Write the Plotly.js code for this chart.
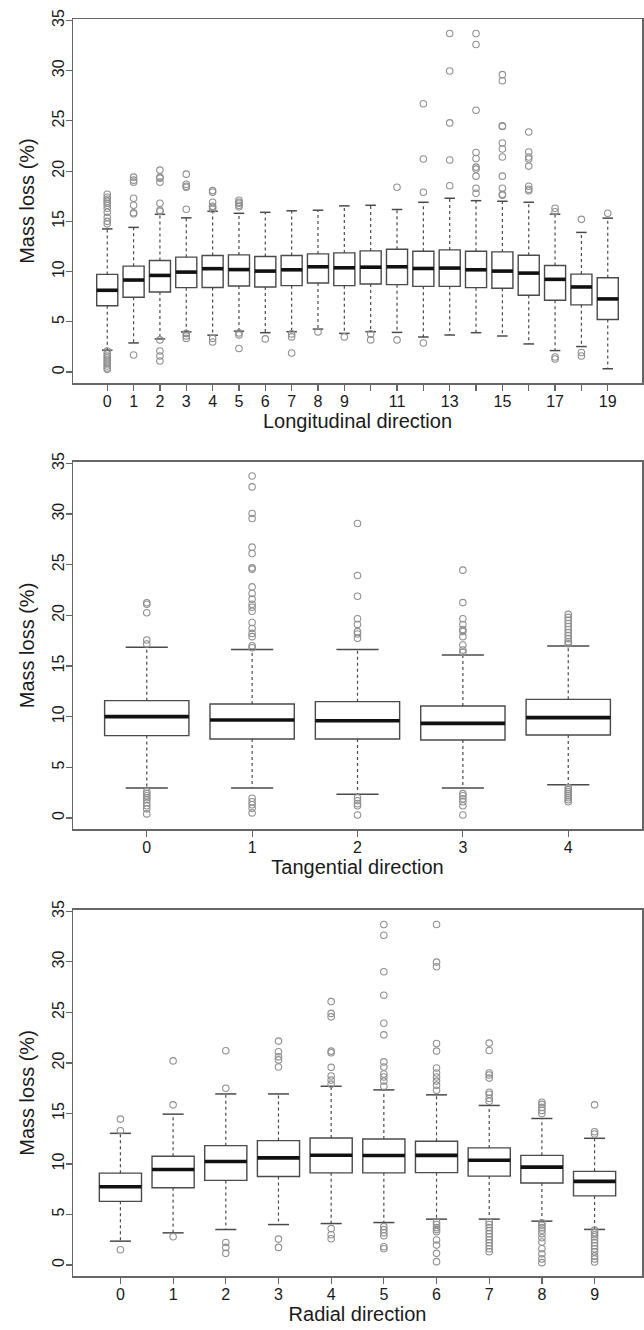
<!DOCTYPE html>
<html>
<head>
<meta charset="utf-8">
<script src="https://cdn.plot.ly/plotly-3.0.1.min.js"></script>
<style>
  html, body { margin: 0; padding: 0; background: #ffffff; }
  #chart { width: 644px; height: 1330px; }
</style>
</head>
<body>
<div id="chart"></div>
<script>
// ---------------- Longitudinal direction (positions 0..19) ----------------
const lonPos = [0,1,2,3,4,5,6,7,8,9,10,11,12,13,14,15,16,17,18,19];
const lonTickText = ["0","1","2","3","4","5","6","7","8","9","","11","","13","","15","","17","","19"];
const lonQ1  = [6.6, 7.45, 7.97, 8.4, 8.42, 8.56, 8.47, 8.6, 8.86, 8.6, 8.76, 8.7, 8.53, 8.53, 8.4, 8.34, 7.64, 7.15, 6.69, 5.24];
const lonMed = [8.14, 9.16, 9.62, 9.95, 10.29, 10.2, 10.05, 10.18, 10.48, 10.38, 10.44, 10.48, 10.31, 10.35, 10.18, 10.05, 9.85, 9.23, 8.47, 7.28];
const lonQ3  = [9.72, 10.54, 11.1, 11.44, 11.6, 11.66, 11.5, 11.6, 11.76, 11.86, 12.06, 12.22, 12.03, 12.16, 12.03, 11.96, 11.63, 10.61, 9.75, 9.39];
const lonLo  = [2.18, 2.9, 3.3, 4.0, 3.67, 4.07, 3.92, 4.02, 4.28, 3.85, 4.02, 3.95, 3.49, 3.69, 3.92, 3.59, 2.8, 2.14, 2.54, 0.33];
const lonHi  = [14.25, 14.4, 15.7, 15.35, 16.0, 15.8, 15.9, 16.05, 16.11, 16.54, 16.6, 16.18, 16.9, 17.3, 17.06, 17.0, 16.9, 15.72, 13.9, 15.32];
const lonOut = [
  [17.7, 17.4, 17.2, 17.0, 16.8, 16.6, 16.3, 15.9, 15.4, 15.0, 14.75, 2.1, 1.8, 1.6, 1.4, 1.2, 1.0, 0.8, 0.6, 0.4, 0.27],
  [19.4, 19.1, 18.9, 17.3, 16.6, 15.85, 15.75, 1.7],
  [20.1, 19.4, 19.3, 18.9, 16.8, 16.1, 16.0, 3.2, 2.1, 1.6, 1.1],
  [19.7, 18.7, 18.5, 18.4, 16.2, 3.85, 3.6, 3.35],
  [18.06, 17.9, 16.9, 16.5, 16.4, 16.2, 3.35, 3.0],
  [17.1, 16.9, 16.8, 16.6, 16.45, 3.9, 3.7, 2.35],
  [3.3],
  [3.8, 3.5, 1.9],
  [4.0],
  [3.5],
  [3.8, 3.2],
  [18.4, 3.2],
  [26.7, 21.2, 17.9, 2.9],
  [33.7, 29.96, 24.8, 21.1, 18.55],
  [33.7, 32.6, 26.06, 21.86, 21.26, 20.4, 20.2, 19.5, 18.3, 17.8],
  [29.6, 29.0, 24.5, 24.45, 22.8, 22.2, 21.4, 19.5, 18.3, 17.7, 17.6],
  [23.9, 21.9, 21.4, 21.2, 20.5, 18.5, 18.2, 18.05],
  [16.3, 15.95, 1.5, 1.3],
  [15.2, 1.95, 1.6],
  [15.8]
];

// ---------------- Tangential direction (positions 0..4) ----------------
const tanPos = [0,1,2,3,4];
const tanTickText = ["0","1","2","3","4"];
const tanQ1  = [8.13, 7.8, 7.8, 7.7, 8.19];
const tanMed = [10.0, 9.67, 9.6, 9.34, 9.9];
const tanQ3  = [11.58, 11.25, 11.48, 11.05, 11.71];
const tanLo  = [2.96, 2.96, 2.34, 2.96, 3.29];
const tanHi  = [16.84, 16.64, 16.64, 16.09, 16.97];
const tanOut = [
  [21.25, 21.1, 20.25, 17.57, 17.17, 2.6, 2.4, 2.2, 2.0, 1.8, 1.5, 1.2, 0.9, 0.4],
  [33.76, 32.68, 30.05, 29.56, 26.73, 26.1, 24.69, 24.56, 22.81, 22.15, 21.6, 21.1, 20.8, 20.4, 19.3, 18.7, 18.22, 17.9, 17.0, 16.8, 1.94, 1.6, 1.3, 0.95, 0.5],
  [29.06, 23.93, 21.89, 19.66, 19.1, 18.39, 18.16, 17.73, 2.0, 1.7, 1.4, 1.2, 0.3],
  [24.46, 21.26, 19.66, 19.1, 18.6, 18.4, 17.9, 17.07, 16.58, 16.35, 2.4, 2.2, 1.9, 1.6, 1.2, 0.3],
  [20.1, 19.8, 19.5, 19.2, 18.9, 18.6, 18.3, 18.0, 17.7, 17.4, 17.2, 3.0, 2.8, 2.6, 2.4, 2.2, 2.0, 1.8, 1.6]
];

// ---------------- Radial direction (positions 0..9) ----------------
const radPos = [0,1,2,3,4,5,6,7,8,9];
const radTickText = ["0","1","2","3","4","5","6","7","8","9"];
const radQ1  = [6.3, 7.65, 8.37, 8.76, 9.12, 9.12, 9.14, 8.8, 8.12, 6.84];
const radMed = [7.75, 9.45, 10.24, 10.6, 10.86, 10.83, 10.85, 10.36, 9.69, 8.28];
const radQ3  = [9.09, 10.76, 11.81, 12.31, 12.57, 12.47, 12.24, 11.59, 10.85, 9.27];
const radLo  = [2.36, 3.18, 3.51, 4.0, 4.1, 4.2, 4.54, 4.54, 4.34, 3.52];
const radHi  = [13.03, 14.93, 16.93, 16.93, 17.69, 17.33, 16.84, 15.79, 14.5, 12.54];
const radOut = [
  [14.44, 13.29, 1.51],
  [20.2, 15.85, 2.79],
  [21.2, 17.49, 2.23, 1.74, 1.15],
  [22.16, 21.1, 20.6, 20.3, 19.6, 2.56, 1.74],
  [26.07, 24.9, 24.56, 21.17, 21.0, 19.56, 18.7, 18.3, 17.9, 3.6, 3.0, 2.6],
  [33.7, 32.64, 29.02, 26.7, 23.93, 22.78, 20.1, 19.6, 18.9, 18.6, 18.2, 17.7, 3.8, 3.5, 3.2, 2.9, 1.8, 1.6],
  [33.7, 29.98, 29.52, 21.92, 21.17, 19.5, 19.0, 18.6, 18.2, 17.8, 17.3, 4.27, 4.0, 3.7, 3.5, 3.3, 2.47, 1.97, 1.15, 0.33],
  [21.96, 21.23, 19.0, 18.8, 18.5, 17.1, 16.9, 16.5, 16.2, 4.27, 4.0, 3.7, 3.4, 3.1, 2.8, 2.5, 2.2, 1.9, 1.6, 1.31],
  [16.1, 15.9, 15.6, 15.3, 15.0, 4.17, 3.94, 3.7, 3.44, 3.1, 2.7, 2.28, 1.6, 1.1, 0.6, 0.23],
  [15.85, 13.19, 12.96, 3.45, 3.2, 3.0, 2.8, 2.5, 2.2, 1.9, 1.6, 1.3, 0.9, 0.6, 0.3]
];

// ---------------- styles ----------------
const FONT = "Liberation Sans, Arial, Helvetica, sans-serif";
const BOXW = 0.8;           // box width in category units (R boxwex)
const CAPW = 0.4;           // whisker cap width (R staplewex 0.5)
const LINEC = "#4a4a4a";
const FRAMEC = "#666666";

function panelTraces(pos, q1, med, q3, lo, hi, out, xa, ya) {
  const tr = [];
  tr.push({
    type: "box", x: pos, q1: q1, median: med, q3: q3,
    lowerfence: q1, upperfence: q3,
    width: BOXW, boxpoints: false, whiskerwidth: 0,
    fillcolor: "rgba(255,255,255,0)",
    line: { color: LINEC, width: 1.4 },
    xaxis: xa, yaxis: ya, showlegend: false, hoverinfo: "skip"
  });
  const wx = [], wy = [];
  pos.forEach((p, i) => {
    wx.push(p, p, null, p, p, null);
    wy.push(q3[i], hi[i], null, q1[i], lo[i], null);
  });
  tr.push({ type: "scatter", mode: "lines", x: wx, y: wy, xaxis: xa, yaxis: ya,
    line: { color: LINEC, width: 1.2, dash: "3px,3px" }, showlegend: false, hoverinfo: "skip" });
  const cx = [], cy = [];
  pos.forEach((p, i) => {
    cx.push(p - CAPW / 2, p + CAPW / 2, null, p - CAPW / 2, p + CAPW / 2, null);
    cy.push(hi[i], hi[i], null, lo[i], lo[i], null);
  });
  tr.push({ type: "scatter", mode: "lines", x: cx, y: cy, xaxis: xa, yaxis: ya,
    line: { color: LINEC, width: 1.5 }, showlegend: false, hoverinfo: "skip" });
  const mx = [], my = [];
  pos.forEach((p, i) => {
    mx.push(p - BOXW / 2, p + BOXW / 2, null);
    my.push(med[i], med[i], null);
  });
  tr.push({ type: "scatter", mode: "lines", x: mx, y: my, xaxis: xa, yaxis: ya,
    line: { color: "#111111", width: 3.6 }, showlegend: false, hoverinfo: "skip" });
  const ox = [], oy = [];
  out.forEach((arr, i) => arr.forEach(v => { ox.push(pos[i]); oy.push(v); }));
  tr.push({ type: "scatter", mode: "markers", x: ox, y: oy, xaxis: xa, yaxis: ya,
    marker: { symbol: "circle-open", size: 6.5, color: "#909090", line: { width: 1.1 } },
    showlegend: false, hoverinfo: "skip" });
  return tr;
}

const data = [].concat(
  panelTraces(lonPos, lonQ1, lonMed, lonQ3, lonLo, lonHi, lonOut, "x", "y"),
  panelTraces(tanPos, tanQ1, tanMed, tanQ3, tanLo, tanHi, tanOut, "x2", "y2"),
  panelTraces(radPos, radQ1, radMed, radQ3, radLo, radHi, radOut, "x3", "y3")
);

const yTicks = [0, 5, 10, 15, 20, 25, 30, 35];
const YRANGE = [-1.09, 35.14];

function xAxis(title, pos, text, range, anchor) {
  return {
    domain: [0, 1], anchor: anchor, range: range,
    tickmode: "array", tickvals: pos, ticktext: text,
    ticks: "outside", ticklen: 6, tickwidth: 1.2, tickcolor: FRAMEC,
    ticklabelstandoff: -3,
    showline: true, mirror: true, linecolor: FRAMEC, linewidth: 1.5,
    showgrid: false, zeroline: false,
    tickfont: { family: FONT, size: 16, color: "#1a1a1a" },
    title: { text: title, standoff: 0, font: { family: FONT, size: 20, color: "#1a1a1a" } }
  };
}
function yAxis(domain, anchor) {
  return {
    domain: domain, anchor: anchor, range: YRANGE,
    tickmode: "array", tickvals: yTicks, ticktext: yTicks.map(String),
    tickangle: -90,
    ticks: "outside", ticklen: 6, tickwidth: 1.2, tickcolor: FRAMEC,
    ticklabelstandoff: -5,
    showline: true, mirror: true, linecolor: FRAMEC, linewidth: 1.5,
    showgrid: false, zeroline: false,
    tickfont: { family: FONT, size: 16, color: "#1a1a1a" },
    title: { text: "Mass loss (%)", standoff: 10, font: { family: FONT, size: 20, color: "#1a1a1a" } }
  };
}

const layout = {
  width: 644, height: 1330,
  margin: { l: 73, r: 2, t: 19, b: 54 },
  paper_bgcolor: "#ffffff", plot_bgcolor: "#ffffff",
  showlegend: false,
  xaxis:  xAxis("Longitudinal direction", lonPos, lonTickText, [-1.3, 20.3], "y"),
  yaxis:  yAxis([0.7104, 1.0], "x"),
  xaxis2: xAxis("Tangential direction", tanPos, tanTickText, [-0.7, 4.7], "y2"),
  yaxis2: yAxis([0.3556, 0.6476], "x2"),
  xaxis3: xAxis("Radial direction", radPos, radTickText, [-0.9, 9.9], "y3"),
  yaxis3: yAxis([0.0, 0.2912], "x3")
};

Plotly.newPlot("chart", data, layout, { displayModeBar: false, staticPlot: true });
</script>
</body>
</html>
